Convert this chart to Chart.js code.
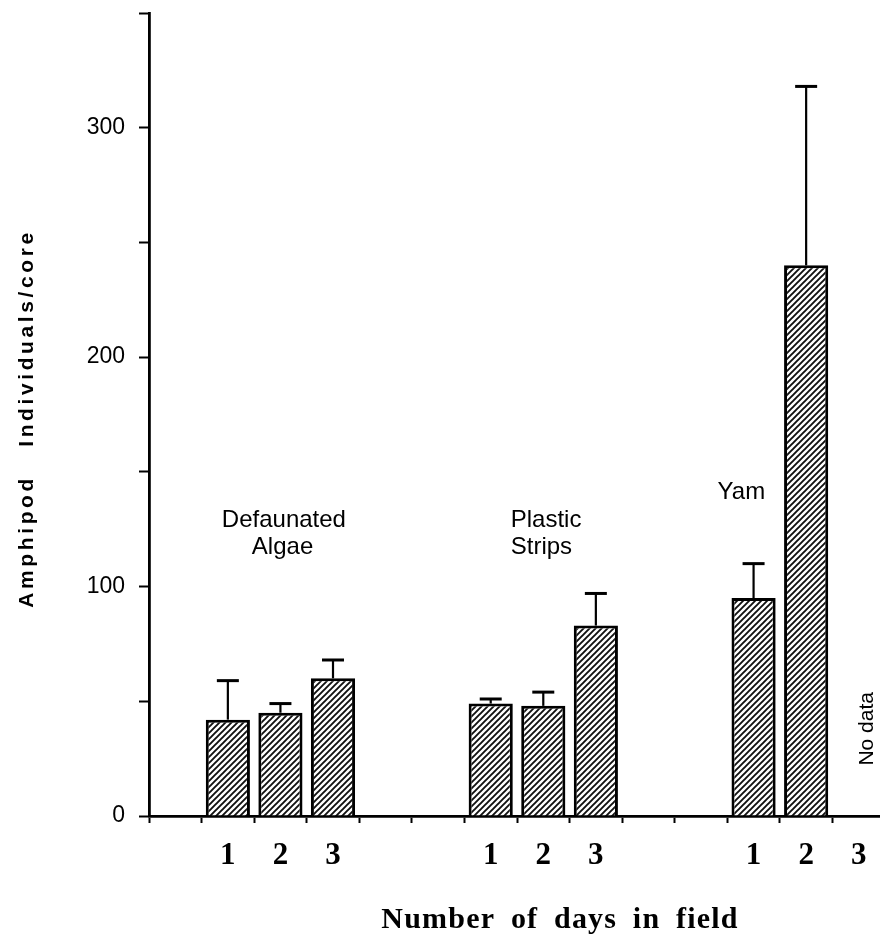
<!DOCTYPE html>
<html>
<head>
<meta charset="utf-8">
<script src="https://cdn.jsdelivr.net/npm/chart.js@4.4.1/dist/chart.umd.min.js"></script>
<style>
  html, body { margin: 0; padding: 0; background: #fff; overflow: hidden; }
  #wrap { width: 886px; height: 945px; }
</style>
</head>
<body>
<div id="wrap"><canvas id="chart" width="886" height="945"></canvas></div>
<script>
// x slots: empty labels are the gaps between the three treatments
const days = ['', '1', '2', '3', '', '', '1', '2', '3', '', '', '1', '2', '3'];
// mean amphipods per core, null = no bar
const means = [null, 42, 45, 60, null, null, 49, 48, 83, null, null, 95, 240, null];
// upper error bar length (same units)
const errors = [null, 17, 4, 8, null, null, 2, 6, 14, null, null, 15, 78, null];
const yLabels = [0, 100, 200, 300];
const groupNames = [['Defaunated', 'Algae'], ['Plastic', 'Strips'], ['Yam']];
const noDataText = 'No data';
const yTitle = 'Amphipod   Individuals/core';
const xTitle = 'Number of days in field';

// diagonal hatch fill for the bars
function makeHatch() {
    const s = 6;
    const c = document.createElement('canvas');
    c.width = s;
    c.height = s;
    const g = c.getContext('2d');
    g.fillStyle = '#fff';
    g.fillRect(0, 0, s, s);
    g.strokeStyle = '#111';
    g.lineWidth = 1.9;
    g.beginPath();
    g.moveTo(-1, s + 1); g.lineTo(s + 1, -1);
    g.moveTo(-1, 1); g.lineTo(1, -1);
    g.moveTo(s - 1, s + 1); g.lineTo(s + 1, s - 1);
    g.stroke();
    return g.createPattern(c, 'repeat');
}

const ctx = document.getElementById('chart').getContext('2d');

// error whiskers (upper only) with a cap
const errorBars = {
    id: 'errorBars',
    afterDatasetsDraw(chart) {
        const c = chart.ctx;
        const y = chart.scales.y;
        const bars = chart.getDatasetMeta(0).data;
        c.save();
        c.strokeStyle = '#000';
        means.forEach((m, i) => {
            if (m == null || errors[i] == null) return;
            const bx = bars[i].x;
            const top = y.getPixelForValue(m + errors[i]);
            c.lineWidth = 2.2;
            c.beginPath();
            c.moveTo(bx, bars[i].y);
            c.lineTo(bx, top);
            c.stroke();
            c.lineWidth = 3;
            c.beginPath();
            c.moveTo(bx - 11, top);
            c.lineTo(bx + 11, top);
            c.stroke();
        });
        c.restore();
    }
};

// group names, "No data" and the two axis titles
const labels = {
    id: 'labels',
    afterDraw(chart) {
        const c = chart.ctx;
        const x = chart.scales.x;
        const y = chart.scales.y;
        c.save();
        c.fillStyle = '#000';
        c.textBaseline = 'alphabetic';
        c.font = '24px "Liberation Sans", Arial, sans-serif';
        c.textAlign = 'left';
        c.fillText(groupNames[0][0], x.getPixelForValue(1) - 6, y.getPixelForValue(126));
        c.fillText(groupNames[0][1], x.getPixelForValue(1) + 24, y.getPixelForValue(114));
        c.fillText(groupNames[1][0], x.getPixelForValue(6) + 20, y.getPixelForValue(126));
        c.fillText(groupNames[1][1], x.getPixelForValue(6) + 20, y.getPixelForValue(114));
        c.fillText(groupNames[2][0], x.getPixelForValue(11) - 36, y.getPixelForValue(138));

        // rotated "No data" in the empty third slot
        c.save();
        c.translate(x.getPixelForValue(13) + 8, y.getPixelForValue(38));
        c.rotate(-Math.PI / 2);
        c.textAlign = 'center';
        c.textBaseline = 'middle';
        c.font = '21px "Liberation Sans", Arial, sans-serif';
        c.fillText(noDataText, 0, 0);
        c.restore();

        // y title
        c.save();
        c.translate(27, (chart.chartArea.top + chart.chartArea.bottom) / 2 + 4);
        c.rotate(-Math.PI / 2);
        c.textAlign = 'center';
        c.textBaseline = 'middle';
        c.letterSpacing = '3.6px';
        c.font = 'bold 21px "Liberation Sans", Arial, sans-serif';
        c.fillText(yTitle, 0, 0);
        c.restore();

        // x title
        c.save();
        c.textAlign = 'center';
        c.textBaseline = 'middle';
        c.letterSpacing = '1.2px';
        c.wordSpacing = '7px';
        c.font = 'bold 30px "Liberation Serif", "Times New Roman", serif';
        c.fillText(xTitle, 560, 920);
        c.restore();
        c.restore();
    }
};

new Chart(ctx, {
    type: 'bar',
    data: {
        labels: days,
        datasets: [{
            data: means,
            backgroundColor: makeHatch(),
            borderColor: '#000',
            borderWidth: 3,
            borderSkipped: 'bottom',
            barPercentage: 0.84,
            categoryPercentage: 1
        }]
    },
    options: {
        responsive: false,
        animation: false,
        layout: { padding: { top: 13, right: 1, left: 0, bottom: 0 } },
        plugins: {
            legend: { display: false },
            tooltip: { enabled: false }
        },
        scales: {
            x: {
                afterFit(scale) { scale.height = 129; },
                border: { color: '#000', width: 2.8 },
                grid: {
                    drawOnChartArea: false,
                    drawTicks: true,
                    tickLength: 7,
                    tickWidth: 2,
                    tickColor: '#000'
                },
                ticks: {
                    color: '#000',
                    padding: 14,
                    maxRotation: 0,
                    autoSkip: false,
                    font: { family: '"Liberation Serif", "Times New Roman", serif', size: 31, weight: 'bold' }
                }
            },
            y: {
                min: 0,
                max: 350,
                afterFit(scale) {
                    scale.width = 149;
                    scale.paddingTop = 0;
                    scale.paddingBottom = 0;
                },
                border: { color: '#000', width: 2.8 },
                grid: {
                    drawOnChartArea: false,
                    drawTicks: true,
                    tickLength: 10,
                    tickWidth: 2,
                    tickColor: '#000'
                },
                ticks: {
                    stepSize: 50,
                    color: '#000',
                    padding: 14,
                    font: { family: '"Liberation Sans", Arial, sans-serif', size: 23 },
                    callback: v => yLabels.includes(v) ? String(v) : ''
                }
            }
        }
    },
    plugins: [errorBars, labels]
});
</script>
</body>
</html>
